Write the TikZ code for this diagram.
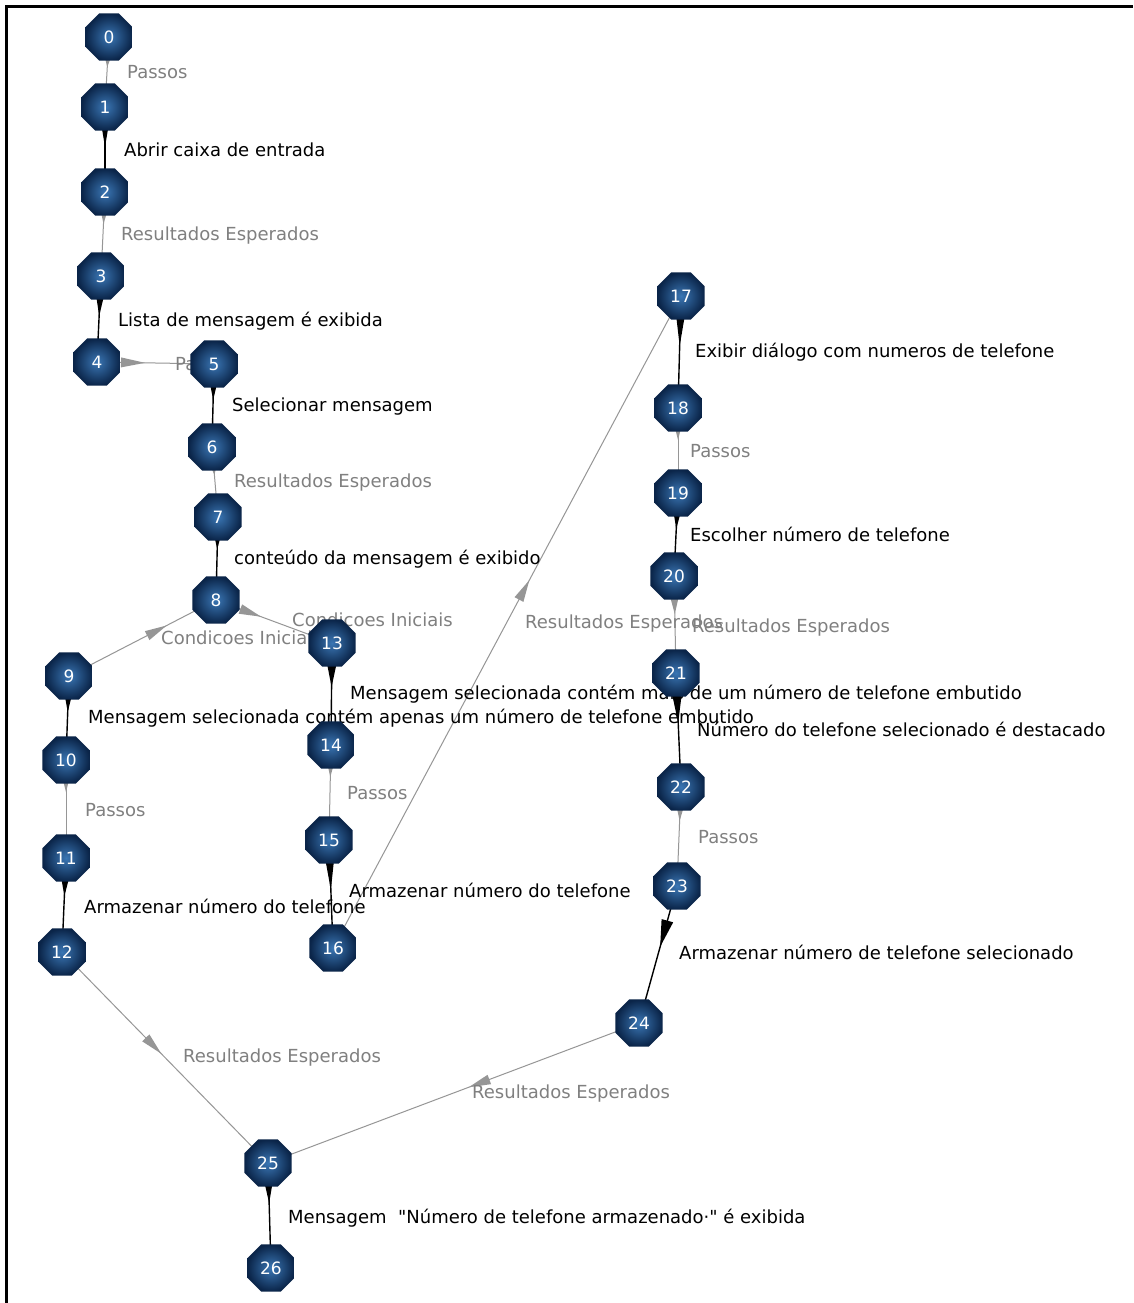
\documentclass[tikz,border=0pt]{standalone}
\usepackage{fontspec}
\setmainfont{DejaVu Sans}[Ligatures=TeXOff]
\usetikzlibrary{shapes.geometric,calc}

\definecolor{nodeIn}{RGB}{58,118,180}
\definecolor{nodeOut}{RGB}{10,36,72}
\definecolor{edgegray}{RGB}{150,150,150}
\definecolor{labgray}{RGB}{128,128,128}

\pgfdeclarelayer{bglayer}
\pgfdeclarelayer{edgelayer}
\pgfdeclarelayer{labellayer}
\pgfsetlayers{bglayer,edgelayer,labellayer,main}

\tikzset{
  vtx/.style={regular polygon, regular polygon sides=8, minimum size=51pt, inner sep=0pt,
    inner color=nodeIn, outer color=nodeOut, text=white, font=\fontsize{17}{17}\selectfont},
  blk/.style={draw=black, line width=1.4pt},
  gry/.style={draw=edgegray, line width=1pt},
  lab/.style={anchor=west, inner sep=0pt, text height=13pt, text depth=4pt, font=\fontsize{18}{20}\selectfont},
  lblk/.style={lab, text=black},
  lgry/.style={lab, text=labgray},
  border/.style={line width=3pt, draw=black},
}

% #1 from node, #2 to node, #3 distance of base from #1 centre, #4 length, #5 half width, #6 colour
\newcommand\arrowtri[6]{%
  \pgfmathsetmacro\tipdist{#3+#4}%
  \path ($(#1)!#3pt!(#2)$) coordinate (tB) ($(#1)!\tipdist pt!(#2)$) coordinate (tT);
  \fill[#6] (tT) -- ($(tB)!#5pt!90:(tT)$) -- ($(tB)!#5pt!-90:(tT)$) -- cycle;%
}

\begin{document}
\begin{tikzpicture}[x=1pt,y=-1pt]
\useasboundingbox (0,0) rectangle (1133,1303);
\begin{pgfonlayer}{bglayer}
\fill[white] (0,0) rectangle (1133,1303);
\draw[border] (6.5,1303) -- (6.5,6.5) -- (1133,6.5);
\end{pgfonlayer}

% nodes
\node[vtx] (n0) at (109,37) {0};
\node[vtx] (n1) at (105,107) {1};
\node[vtx] (n2) at (105,192) {2};
\node[vtx] (n3) at (101,276) {3};
\node[vtx] (n4) at (97,362) {4};
\node[vtx] (n5) at (214,364) {5};
\node[vtx] (n6) at (212,447) {6};
\node[vtx] (n7) at (218,517) {7};
\node[vtx] (n8) at (216,600) {8};
\node[vtx] (n9) at (69,676) {9};
\node[vtx] (n10) at (66,760) {10};
\node[vtx] (n11) at (66,858) {11};
\node[vtx] (n12) at (62,952) {12};
\node[vtx] (n13) at (332,643) {13};
\node[vtx] (n14) at (331,745) {14};
\node[vtx] (n15) at (329,840) {15};
\node[vtx] (n16) at (333,948) {16};
\node[vtx] (n17) at (681,296) {17};
\node[vtx] (n18) at (678,408) {18};
\node[vtx] (n19) at (678,493) {19};
\node[vtx] (n20) at (674,576) {20};
\node[vtx] (n21) at (676,673) {21};
\node[vtx] (n22) at (681,787) {22};
\node[vtx] (n23) at (677,886) {23};
\node[vtx] (n24) at (639,1023) {24};
\node[vtx] (n25) at (268,1163) {25};
\node[vtx] (n26) at (271,1268) {26};

\begin{pgfonlayer}{edgelayer}
% grey edges
\draw[gry] (n0.center) -- (n1.center);
\draw[gry] (n2.center) -- (n3.center);
\draw[gry] (n4.center) -- (n5.center);
\draw[gry] (n6.center) -- (n7.center);
\draw[gry] (n8.center) -- (n9.center);
\draw[gry] (n8.center) -- (n13.center);
\draw[gry] (n10.center) -- (n11.center);
\draw[gry] (n14.center) -- (n15.center);
\draw[gry] (n16.center) -- (n17.center);
\draw[gry] (n18.center) -- (n19.center);
\draw[gry] (n20.center) -- (n21.center);
\draw[gry] (n22.center) -- (n23.center);
\draw[gry] (n12.center) -- (n25.center);
\draw[gry] (n24.center) -- (n25.center);
% black edges
\draw[blk] (n1.center) -- (n2.center);
\draw[blk] (n3.center) -- (n4.center);
\draw[blk] (n5.center) -- (n6.center);
\draw[blk] (n7.center) -- (n8.center);
\draw[blk] (n9.center) -- (n10.center);
\draw[blk] (n11.center) -- (n12.center);
\draw[blk] (n13.center) -- (n14.center);
\draw[blk] (n15.center) -- (n16.center);
\draw[blk] (n17.center) -- (n18.center);
\draw[blk] (n19.center) -- (n20.center);
\draw[blk] (n21.center) -- (n22.center);
\draw[blk] (n23.center) -- (n24.center);
\draw[blk] (n25.center) -- (n26.center);
% arrowheads
\arrowtri{n0}{n1}{22}{8}{2.5}{edgegray}
\arrowtri{n1}{n2}{22}{18}{3}{black}
\arrowtri{n2}{n3}{22}{10}{2.5}{edgegray}
\arrowtri{n3}{n4}{22}{18}{3.5}{black}
\arrowtri{n4}{n5}{24}{24}{5}{edgegray}
\arrowtri{n5}{n6}{22}{14}{3}{black}
\arrowtri{n6}{n7}{22}{6}{2}{edgegray}
\arrowtri{n7}{n8}{22}{10}{2.5}{black}
\arrowtri{n8}{n13}{26}{22}{5}{edgegray}
\arrowtri{n9}{n8}{88}{22}{5}{edgegray}
\arrowtri{n9}{n10}{22}{14}{3}{black}
\arrowtri{n10}{n11}{22}{10}{2.5}{edgegray}
\arrowtri{n11}{n12}{22}{16}{3.5}{black}
\arrowtri{n13}{n14}{22}{22}{4.5}{black}
\arrowtri{n14}{n15}{22}{10}{2.5}{edgegray}
\arrowtri{n15}{n16}{22}{28}{4}{black}
\arrowtri{n16}{n17}{395}{22}{5}{edgegray}
\arrowtri{n17}{n18}{22}{28}{4}{black}
\arrowtri{n18}{n19}{22}{10}{2.5}{edgegray}
\arrowtri{n19}{n20}{22}{14}{3}{black}
\arrowtri{n20}{n21}{22}{16}{4}{edgegray}
\arrowtri{n21}{n22}{20}{30}{5}{black}
\arrowtri{n22}{n23}{22}{12}{3}{edgegray}
\arrowtri{n23}{n24}{36}{27}{6}{black}
\arrowtri{n12}{n25}{120}{22}{5}{edgegray}
\arrowtri{n24}{n25}{160}{22}{5}{edgegray}
\arrowtri{n25}{n26}{20}{20}{4}{black}
\end{pgfonlayer}

\begin{pgfonlayer}{labellayer}
\node[lgry] (l01) at (127,74) {Passos};
\node[lblk] (l12) at (124,152) {Abrir caixa de entrada};
\node[lgry] (l23) at (121,236) {Resultados Esperados};
\node[lblk] (l34) at (118,322) {Lista de mensagem é exibida};
\node[lgry] (l45) at (175,366) {Passos};
\node[lblk] (l56) at (232,407) {Selecionar mensagem};
\node[lgry] (l67) at (234,483) {Resultados Esperados};
\node[lblk] (l78) at (234,560) {conteúdo da mensagem é exibido};
\node[lgry] (l89) at (161,640) {Condicoes Iniciais};
\node[lgry] (l813) at (292,622) {Condicoes Iniciais};
\node[lblk] (l910) at (88,719) {Mensagem selecionada contém apenas um número de telefone embutido};
\node[lblk] (l1314) at (350,695) {Mensagem selecionada contém mais de um número de telefone embutido};
\node[lgry] (l1011) at (85,812) {Passos};
\node[lgry] (l1415) at (347,795) {Passos};
\node[lblk] (l1112) at (84,909) {Armazenar número do telefone};
\node[lblk] (l1516) at (349,893) {Armazenar número do telefone};
\node[lgry] (l1617) at (525,624) {Resultados Esperados};
\node[lblk] (l1718) at (695,353) {Exibir diálogo com numeros de telefone};
\node[lgry] (l1819) at (690,453) {Passos};
\node[lblk] (l1920) at (690,537) {Escolher número de telefone};
\node[lgry] (l2021) at (692,628) {Resultados Esperados};
\node[lblk] (l2122) at (697,732) {Número do telefone selecionado é destacado};
\node[lgry] (l2223) at (698,839) {Passos};
\node[lblk] (l2324) at (679,955) {Armazenar número de telefone selecionado};
\node[lgry] (l1225) at (183,1058) {Resultados Esperados};
\node[lgry] (l2425) at (472,1094) {Resultados Esperados};
\node[lblk] (l2526) at (288,1219) {Mensagem\ \ "Número de telefone armazenado·" é exibida};
\end{pgfonlayer}
\end{tikzpicture}
\end{document}
